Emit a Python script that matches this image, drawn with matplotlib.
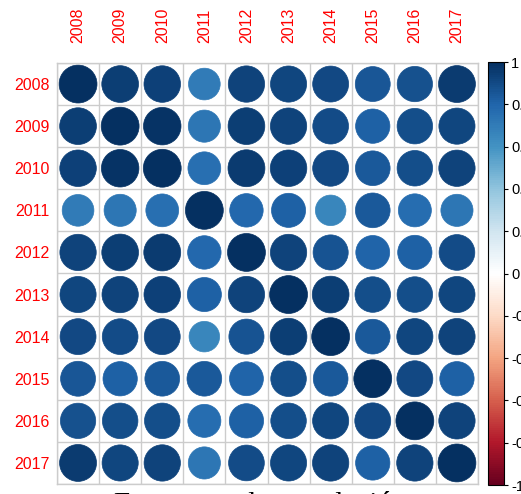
import numpy as np
import matplotlib
matplotlib.use("Agg")
import matplotlib.pyplot as plt
from matplotlib.patches import Circle
from matplotlib.colors import LinearSegmentedColormap, Normalize
import matplotlib.colorbar as mcolorbar

years = ["2008", "2009", "2010", "2011", "2012", "2013", "2014", "2015", "2016", "2017"]

# upper-triangle correlations (row by row), matrix is symmetric
r2008 = [1.00, 0.94, 0.93, 0.70, 0.92, 0.91, 0.90, 0.85, 0.87, 0.95]
r2009 = [0.98, 0.72, 0.94, 0.92, 0.89, 0.82, 0.88, 0.91]
r2010 = [0.75, 0.95, 0.93, 0.90, 0.84, 0.88, 0.92]
r2011 = [0.78, 0.81, 0.65, 0.84, 0.76, 0.72]
r2012 = [0.92, 0.86, 0.80, 0.82, 0.89]
r2013 = [0.94, 0.88, 0.88, 0.91]
r2014 = [0.84, 0.91, 0.92]
r2015 = [0.90, 0.82]
r2016 = [0.92]

upper_rows = [r2008[1:], r2009, r2010, r2011, r2012, r2013, r2014, r2015, r2016]
colorbar_ticks = [-1, -0.8, -0.6, -0.4, -0.2, 0, 0.2, 0.4, 0.6, 0.8, 1]
title_text = "Estructura de correlación"

n = len(years)
corr = np.eye(n)
for i, row in enumerate(upper_rows):
    for k, v in enumerate(row):
        j = i + 1 + k
        corr[i, j] = v
        corr[j, i] = v

col2 = ["#67001F", "#B2182B", "#D6604D", "#F4A582", "#FDDBC7", "#FFFFFF",
        "#D1E5F0", "#92C5DE", "#4393C3", "#2166AC", "#053061"]
cmap = LinearSegmentedColormap.from_list("rdbu_corr", col2, N=200)
norm = Normalize(-1, 1)

W, H = 521, 494
fig = plt.figure(figsize=(W / 100, H / 100), dpi=100)
ax = fig.add_axes([57 / W, 9 / H, 421 / W, 423 / H])
ax.set_xlim(0.5, n + 0.5)
ax.set_ylim(n + 0.5, 0.5)
ax.set_aspect("equal")

gridc = "#cccccc"
for p in np.arange(0.5, n + 1, 1):
    ax.axhline(p, color=gridc, lw=1, zorder=1)
    ax.axvline(p, color=gridc, lw=1, zorder=1)
for s in ax.spines.values():
    s.set_color(gridc)
    s.set_linewidth(1)

for i in range(n):
    for j in range(n):
        v = corr[i, j]
        rad = 0.45 * np.sqrt(abs(v))
        c = cmap(norm(v))
        ax.add_patch(Circle((j + 1, i + 1), rad, facecolor=c, edgecolor=c,
                            lw=0.5, zorder=2))

ax.set_xticks(range(1, n + 1))
ax.set_yticks(range(1, n + 1))
ax.set_yticklabels(years, color="red", fontsize=11.5, family="Liberation Sans")
ax.set_xticklabels(years, color="red", fontsize=11.5, family="Liberation Sans",
                   rotation=90)
ax.xaxis.tick_top()
ax.tick_params(axis="both", length=0)
ax.tick_params(axis="x", pad=14.5)
ax.tick_params(axis="y", pad=5.5)

cax = fig.add_axes([488 / W, 9 / H, 16 / W, 423 / H])
cb = mcolorbar.ColorbarBase(cax, cmap=cmap, norm=norm, orientation="vertical")
cb.set_ticks(colorbar_ticks)
cb.set_ticklabels([("%g" % t) for t in colorbar_ticks])
cb.outline.set_linewidth(0.8)
cb.outline.set_edgecolor("black")
cax.tick_params(axis="y", length=3, width=0.8, pad=2, labelsize=10.5,
                colors="black")
for lab in cax.get_yticklabels():
    lab.set_family("Liberation Sans")

fig.text(0.5, 1.6 / H, title_text, ha="center", va="top",
         family="Liberation Serif", fontsize=21)

fig.savefig("out.png", dpi=100)
